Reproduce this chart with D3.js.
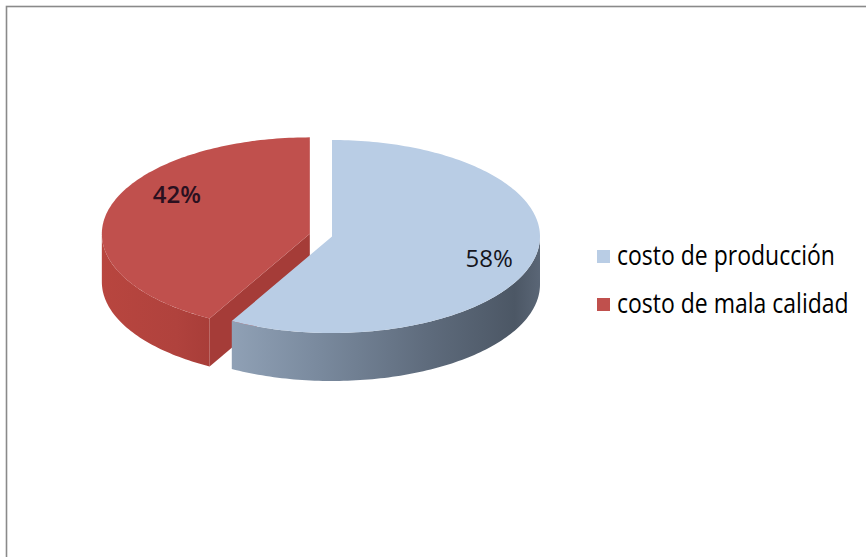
<!DOCTYPE html>
<html>
<head>
<meta charset="utf-8">
<script src="https://cdn.jsdelivr.net/npm/d3@7"></script>
<style>
  html, body { margin: 0; padding: 0; background: #fff; }
  svg { display: block; }
</style>
</head>
<body>
<svg id="chart" width="866" height="557"></svg>
<script>
// Cost split, in percent
const categories = ["costo de producción", "costo de mala calidad"];
const values = [58, 42];
const labels = ["58%", "42%"];
const topColors = ["#b9cde5", "#c0504d"];
const exploded = [0, 0.11];

const svg = d3.select("#chart");
const W = 866, H = 557;

// chart frame
svg.append("rect")
  .attr("x", 6.5).attr("y", 6.5)
  .attr("width", W + 10).attr("height", H + 10)
  .attr("fill", "#fff")
  .attr("stroke", "#8a8a8a").attr("stroke-width", 1.6);

// 3D pie geometry: a tilted disc drawn as an ellipse with a side band
const cx = 332, cy = 236.5, rx = 208, ry = 96.5, depth = 48;

const pie = d3.pie().sort(null).startAngle(0).endAngle(2 * Math.PI);
const arcs = pie(values);

function proj(a, r, ox, oy, dz) {
  return [ox + cx + rx * r * Math.sin(a), oy + cy - ry * r * Math.cos(a) + (dz || 0)];
}
function arcPts(a0, a1, ox, oy, dz) {
  const n = Math.max(2, Math.ceil((a1 - a0) / 0.02));
  return d3.range(n + 1).map(i => proj(a0 + (a1 - a0) * i / n, 1, ox, oy, dz));
}
const line = d3.line();

const defs = svg.append("defs");
const blueSide = defs.append("linearGradient").attr("id", "sideBlue")
  .attr("gradientUnits", "userSpaceOnUse")
  .attr("x1", cx - 110).attr("x2", cx + rx).attr("y1", 0).attr("y2", 0);
[[0, "#92a3b8"], [0.3, "#7a8a9e"], [0.65, "#5e6b7c"], [0.92, "#4c5765"], [1, "#5a6676"]]
  .forEach(([o, c]) => blueSide.append("stop").attr("offset", o).attr("stop-color", c));
const redSide = defs.append("linearGradient").attr("id", "sideRed")
  .attr("gradientUnits", "userSpaceOnUse")
  .attr("x1", cx - rx - 30).attr("x2", cx - 100).attr("y1", 0).attr("y2", 0);
[[0, "#b9463f"], [0.6, "#b0423d"], [1, "#a33a36"]]
  .forEach(([o, c]) => redSide.append("stop").attr("offset", o).attr("stop-color", c));
const sideFill = ["url(#sideBlue)", "url(#sideRed)"];
const cutFill = ["#7d8da1", "#a53c38"];

// offset of each slice along its bisector
const offs = arcs.map((d, i) => {
  const m = (d.startAngle + d.endAngle) / 2;
  return [rx * exploded[i] * Math.sin(m), -ry * exploded[i] * Math.cos(m)];
});

const g = svg.append("g");

// draw the back slice (red) first, then the front slice (blue)
const order = [1, 0];
order.forEach(i => {
  const d = arcs[i];
  const [ox, oy] = offs[i];
  const sg = g.append("g").attr("class", "slice");

  // cut face at the start angle, visible when it faces the viewer
  const faceDir = d.startAngle - Math.PI / 2;
  if (Math.cos(faceDir) < 0 && i === 1) {
    const c0 = proj(0, 0, ox, oy), e0 = proj(d.startAngle, 1, ox, oy);
    sg.append("path")
      .attr("d", line([c0, e0, [e0[0], e0[1] + depth], [c0[0], c0[1] + depth]]) + "Z")
      .attr("fill", cutFill[i]);
  }

  // outer side, front half only
  const s0 = Math.max(d.startAngle, Math.PI / 2), s1 = Math.min(d.endAngle, 3 * Math.PI / 2);
  if (s1 > s0) {
    const top = arcPts(s0, s1, ox, oy, 0);
    const bot = arcPts(s0, s1, ox, oy, depth).reverse();
    sg.append("path").attr("d", line(top.concat(bot)) + "Z").attr("fill", sideFill[i]);
  }

  // top face
  const pts = [proj(0, 0, ox, oy)].concat(arcPts(d.startAngle, d.endAngle, ox, oy, 0));
  sg.append("path").attr("d", line(pts) + "Z").attr("fill", topColors[i]);
});

// value labels
const labelR = [0.78, 0.66];
const labelNudge = [[0, 12], [0, -15]];
arcs.forEach((d, i) => {
  const m = (d.startAngle + d.endAngle) / 2;
  const p = proj(m, labelR[i], offs[i][0], offs[i][1]);
  g.append("text")
    .attr("x", p[0] + labelNudge[i][0]).attr("y", p[1] + labelNudge[i][1])
    .attr("text-anchor", "middle")
    .attr("font-family", "'Open Sans', sans-serif")
    .attr("font-size", 24)
    .attr("font-weight", i === 1 ? 600 : 400)
    .attr("fill", i === 1 ? "#2a1020" : "#15151c")
    .text(labels[i]);
});

// legend
const legend = svg.append("g").attr("transform", "translate(597,250)");
categories.forEach((c, i) => {
  const row = legend.append("g").attr("transform", `translate(0,${i * 48})`);
  row.append("rect").attr("width", 13).attr("height", 13).attr("fill", topColors[i]);
  row.append("text")
    .attr("transform", "translate(20,15) scale(1,1.15)")
    .attr("font-family", "'Open Sans', sans-serif")
    .attr("font-size", 23)
    .attr("font-weight", 500)
    .attr("fill", "#000")
    .text(c);
});
</script>
</body>
</html>
